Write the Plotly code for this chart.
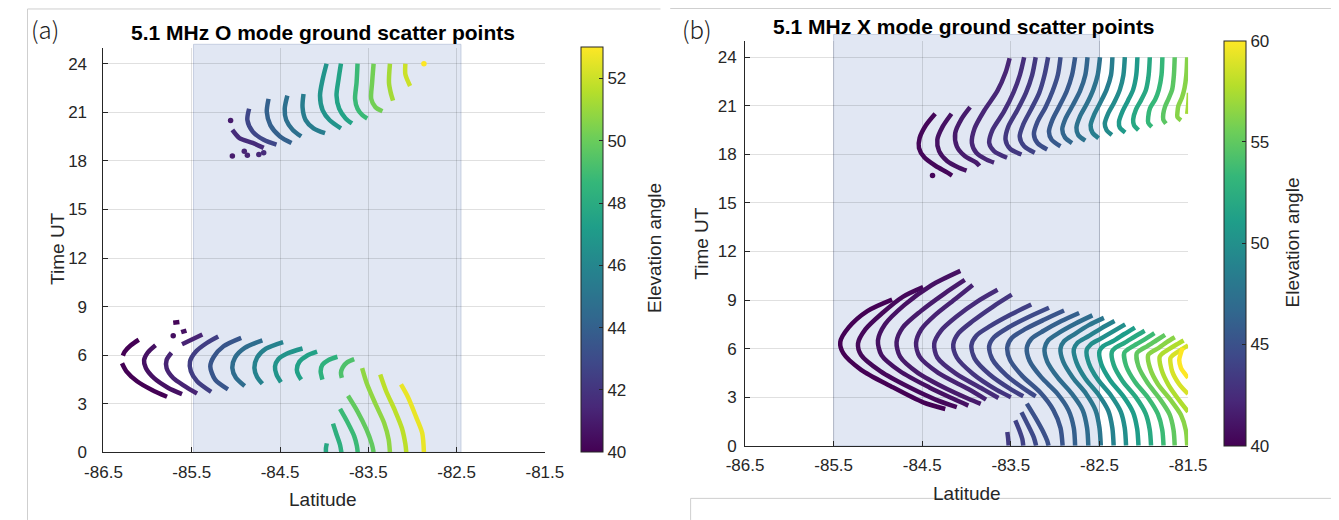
import plotly.graph_objects as go
from plotly.colors import sample_colorscale

# ---------------- data ----------------
LAT_TICKS = [-86.5, -85.5, -84.5, -83.5, -82.5, -81.5]
LAT_TICK_TEXT = ["-86.5", "-85.5", "-84.5", "-83.5", "-82.5", "-81.5"]
TIME_TICKS = [0, 3, 6, 9, 12, 15, 18, 21, 24]
CBAR_A_TICKS = [40, 42, 44, 46, 48, 50, 52]
CBAR_B_TICKS = [40, 45, 50, 55, 60]
CBAR_A_RANGE = [40, 53]
CBAR_B_RANGE = [40, 60]
SHADE_A = [-85.48, -82.45]
SHADE_B = [-85.5, -82.5]

# panel (a): O mode traces (latitude, time UT, elevation angle)
A_LAT = [
    [-86.10, -86.19, -86.26, -86.28, None, -86.29, -86.24, -86.12, -85.95, -85.78],
    [-85.91, -86.00, -86.04, -86.02, -85.93, -85.77, -85.61],
    [-85.38, -85.61, None, -85.73, -85.785, -85.785, -85.71, -85.58, -85.44],
    [-85.20, -85.33, -85.455, -85.52, -85.51, -85.44, -85.28],
    [-84.94, -85.14, -85.25, -85.29, -85.235, -85.09],
    [-84.70, -84.90, -85.01, -85.04, -85.00, -84.90],
    [-84.465, -84.66, -84.76, -84.79, -84.76, -84.70],
    [-84.245, -84.42, -84.52, -84.557, -84.54, -84.49],
    [-84.08, -84.20, -84.28, -84.31, -84.29, -84.26],
    [-83.85, -83.95, -84.02, -84.04, -84.03, -84.02],
    [-83.66, -83.74, -83.79, -83.81, -83.80],
    [-85.71, -85.64],
    [-85.62, -85.56],
    [-83.97, -83.98, -83.98],
    [-83.90, -83.86, -83.82, -83.805],
    [-83.82, -83.74, -83.66, -83.63, -83.62],
    [-83.73, -83.62, -83.52, -83.46, -83.44],
    [-83.57, -83.52, -83.42, -83.32, -83.27, -83.255],
    [-83.365, -83.30, -83.20, -83.12, -83.08, -83.07],
    [-83.13, -83.05, -82.96, -82.89, -82.87],
    [-85.04, -84.96, -84.81, -84.685],
    [-84.85, -84.87, -84.81, -84.685, -84.54],
    [-84.63, -84.65, -84.61, -84.50, -84.37],
    [-84.417, -84.447, -84.43, -84.355, -84.26],
    [-84.234, -84.245, -84.21, -84.12, -83.99],
    [-83.973, -84.017, -84.047, -84.017, -83.937, -83.81],
    [-83.81, -83.837, -83.86, -83.83, -83.757, -83.685],
    [-83.622, -83.633, -83.65, -83.622, -83.567, -83.512],
    [-83.44, -83.457, -83.467, -83.42, -83.34],
    [-83.255, -83.266, -83.247, -83.22],
    [-83.08, -83.08, -83.027],
]
A_TIME = [
    [6.95, 6.61, 6.21, 5.97, None, 5.50, 5.00, 4.39, 3.85, 3.43],
    [6.61, 6.15, 5.70, 5.20, 4.59, 3.99, 3.59],
    [7.27, 6.67, None, 6.15, 5.70, 5.20, 4.59, 4.09, 3.63],
    [7.15, 6.75, 6.21, 5.60, 5.00, 4.39, 3.73],
    [7.07, 6.55, 5.90, 5.30, 4.49, 3.89],
    [6.91, 6.45, 5.85, 5.20, 4.60, 4.09],
    [6.81, 6.40, 5.85, 5.20, 4.65, 4.23],
    [6.41, 6.10, 5.75, 5.30, 4.80, 4.33],
    [6.21, 5.95, 5.60, 5.10, 4.75, 4.49],
    [5.90, 5.70, 5.40, 5.00, 4.70, 4.49],
    [5.75, 5.55, 5.25, 4.90, 4.60],
    [8.00, 8.05],
    [7.42, 7.52],
    [0.55, 0.25, 0.00],
    [1.77, 1.10, 0.45, 0.00],
    [2.68, 1.90, 1.00, 0.40, 0.00],
    [3.49, 2.50, 1.40, 0.50, 0.00],
    [5.20, 4.30, 3.00, 1.80, 0.80, 0.00],
    [4.80, 3.80, 2.60, 1.50, 0.50, 0.00],
    [4.19, 3.40, 2.20, 1.20, 0.00],
    [19.91, 19.41, 19.11, 18.80],
    [21.22, 20.52, 19.81, 19.30, 19.00],
    [21.83, 21.02, 20.21, 19.51, 19.10],
    [22.03, 21.22, 20.52, 19.91, 19.51],
    [22.13, 21.32, 20.52, 20.01, 19.71],
    [24.00, 23.04, 22.03, 21.12, 20.51, 20.01],
    [24.00, 23.04, 22.03, 21.22, 20.62, 20.31],
    [24.00, 22.83, 21.83, 21.22, 20.82, 20.62],
    [24.00, 22.83, 21.83, 21.32, 21.06],
    [24.00, 22.83, 22.23, 21.72],
    [24.00, 23.34, 22.63],
]
A_ELEV = [40.0, 40.6, 41.3, 42.4, 43.5, 44.6, 45.8, 46.7, 47.4, 48.3, 49.3,
          40.2, 40.6,
          47.8, 48.2, 48.8, 49.8, 50.8, 51.7, 52.6,
          41.6, 42.8, 44.0, 44.8, 45.5, 46.7, 47.5, 48.8, 50.2, 51.2, 52.0]

A_DOT_LAT = [-85.06, -85.04, -84.905, -84.87, -84.74, -84.685, -82.87, -85.71]
A_DOT_TIME = [20.5, 18.3, 18.6, 18.34, 18.4, 18.5, 24.0, 7.2]
A_DOT_ELEV = [41.0, 41.0, 41.3, 41.3, 41.5, 41.6, 53.0, 40.5]

# panel (b): X mode traces
B_LAT = [
    [-84.84, -85.12, -85.33, -85.425, -85.39, -85.19, -84.86, -84.49, -84.24],
    [-84.49, -84.72, -84.95, -85.14, -85.225, -85.19, -84.97, -84.64, -84.35, -84.11],
    [-84.07, -84.40, -84.70, -84.92, -85.00, -84.96, -84.75, -84.42, -84.15, -83.98],
    [-84.02, -84.25, -84.52, -84.72, -84.79, -84.75, -84.55, -84.22, -83.98, -83.84],
    [-83.93, -84.12, -84.35, -84.51, -84.57, -84.53, -84.32, -83.98, -83.78],
    [-83.65, -83.88, -84.12, -84.29, -84.365, -84.33, -84.12, -83.80, -83.64],
    [-83.49, -83.70, -83.93, -84.09, -84.15, -84.11, -83.93, -83.66, -83.50],
    [-83.27, -83.50, -83.73, -83.89, -83.945, -83.91, -83.74, -83.49, -83.36],
    [-83.07, -83.30, -83.53, -83.69, -83.745, -83.71, -83.55, -83.32, -83.22],
    [-82.90, -83.12, -83.34, -83.49, -83.54, -83.51, -83.37, -83.17, -83.02, -82.94, -82.916],
    [-82.73, -82.93, -83.13, -83.27, -83.32, -83.29, -83.16, -82.98, -82.85, -82.79, -82.775],
    [-82.58, -82.77, -82.95, -83.08, -83.12, -83.09, -82.97, -82.81, -82.69, -82.64, -82.626],
    [-82.45, -82.62, -82.78, -82.90, -82.94, -82.91, -82.80, -82.65, -82.545, -82.50, -82.485],
    [-82.33, -82.48, -82.63, -82.75, -82.79, -82.76, -82.66, -82.51, -82.40, -82.355, -82.34],
    [-82.21, -82.35, -82.49, -82.60, -82.645, -82.62, -82.52, -82.37, -82.26, -82.215, -82.20],
    [-82.10, -82.22, -82.35, -82.46, -82.50, -82.48, -82.38, -82.23, -82.12, -82.075, -82.06],
    [-81.99, -82.10, -82.22, -82.32, -82.36, -82.34, -82.24, -82.09, -81.98, -81.933, -81.918],
    [-81.88, -81.98, -82.09, -82.18, -82.22, -82.20, -82.10, -81.95, -81.84, -81.792, -81.777],
    [-81.76, -81.86, -81.96, -82.04, -82.08, -82.06, -81.96, -81.82, -81.71, -81.665, -81.651],
    [-81.65, -81.74, -81.83, -81.91, -81.95, -81.93, -81.84, -81.70, -81.58, -81.525, -81.51],
    [-81.55, -81.63, -81.72, -81.79, -81.82, -81.80, -81.72, -81.60, -81.50],
    [-81.50, -81.56, -81.63, -81.68, -81.70, -81.68, -81.60, -81.50],
    [-81.56, -81.58, -81.60, -81.58, -81.53, -81.50],
    [-83.54, -83.53, -83.525],
    [-83.45, -83.40, -83.37, -83.36],
    [-83.38, -83.30, -83.24, -83.215],
    [-83.32, -83.22, -83.13, -83.09, -83.075],
    [-84.354, -84.457, -84.53, -84.537, -84.475, -84.347, -84.22, -84.164],
    [-84.17, -84.27, -84.33, -84.31, -84.22, -84.09, -84.00],
    [-83.96, -84.055, -84.128, -84.11, -84.02, -83.89, -83.854],
    [-83.514, -83.561, -83.652, -83.80, -83.909, -83.94, -83.89, -83.78, -83.69],
    [-83.35, -83.397, -83.47, -83.58, -83.707, -83.744, -83.69, -83.543],
    [-83.22, -83.26, -83.33, -83.43, -83.53, -83.56, -83.51, -83.38],
    [-83.08, -83.12, -83.18, -83.27, -83.36, -83.40, -83.35, -83.23],
    [-82.94, -82.97, -83.03, -83.11, -83.20, -83.24, -83.20, -83.09],
    [-82.775, -82.81, -82.87, -82.95, -83.03, -83.07, -83.04, -82.94],
    [-82.635, -82.66, -82.72, -82.80, -82.88, -82.92, -82.89, -82.81],
    [-82.494, -82.52, -82.57, -82.64, -82.72, -82.76, -82.74, -82.66],
    [-82.354, -82.37, -82.42, -82.49, -82.56, -82.60, -82.58, -82.51],
    [-82.214, -82.23, -82.27, -82.33, -82.40, -82.44, -82.42, -82.36],
    [-82.072, -82.085, -82.12, -82.18, -82.24, -82.28, -82.27, -82.21],
    [-81.932, -81.945, -81.975, -82.03, -82.09, -82.12, -82.11, -82.06],
    [-81.79, -81.80, -81.83, -81.87, -81.93, -81.95, -81.95, -81.91],
    [-81.651, -81.66, -81.68, -81.72, -81.76, -81.78, -81.78, -81.75],
    [-81.51, -81.52, -81.54, -81.57, -81.61, -81.62, -81.62, -81.58],
    [-81.49, -81.50, -81.51],
]
B_TIME = [
    [9.03, 8.32, 7.31, 6.41, 5.70, 4.69, 3.69, 2.68, 2.27],
    [9.80, 9.20, 8.20, 7.20, 6.31, 5.60, 4.59, 3.59, 2.85, 2.38],
    [10.80, 9.90, 8.70, 7.50, 6.50, 5.60, 4.60, 3.60, 2.90, 2.48],
    [10.24, 9.40, 8.30, 7.30, 6.40, 5.50, 4.50, 3.50, 2.90, 2.58],
    [9.93, 9.10, 8.10, 7.20, 6.35, 5.50, 4.50, 3.50, 2.85],
    [9.63, 8.90, 7.95, 7.10, 6.30, 5.45, 4.45, 3.45, 2.95],
    [9.33, 8.60, 7.70, 6.95, 6.25, 5.45, 4.45, 3.45, 3.00],
    [8.72, 8.10, 7.40, 6.80, 6.20, 5.40, 4.40, 3.45, 3.05],
    [8.52, 7.95, 7.30, 6.70, 6.15, 5.35, 4.35, 3.40, 3.05],
    [8.35, 7.80, 7.20, 6.65, 6.10, 5.30, 4.30, 3.30, 2.20, 1.10, 0.00],
    [8.20, 7.70, 7.10, 6.60, 6.05, 5.25, 4.25, 3.25, 2.20, 1.10, 0.00],
    [8.05, 7.55, 7.00, 6.50, 6.00, 5.20, 4.20, 3.20, 2.20, 1.10, 0.00],
    [7.90, 7.45, 6.90, 6.45, 6.00, 5.20, 4.20, 3.20, 2.20, 1.10, 0.00],
    [7.70, 7.25, 6.75, 6.35, 5.95, 5.15, 4.15, 3.15, 2.15, 1.10, 0.00],
    [7.50, 7.05, 6.60, 6.25, 5.90, 5.10, 4.10, 3.10, 2.10, 1.10, 0.00],
    [7.30, 6.90, 6.45, 6.15, 5.85, 5.05, 4.05, 3.05, 2.05, 1.05, 0.00],
    [7.10, 6.75, 6.35, 6.05, 5.80, 5.00, 4.00, 3.00, 2.00, 1.00, 0.00],
    [6.95, 6.60, 6.25, 5.95, 5.75, 4.95, 3.95, 2.95, 1.95, 1.00, 0.00],
    [6.85, 6.50, 6.15, 5.90, 5.70, 4.90, 3.90, 2.90, 1.95, 1.00, 0.00],
    [6.70, 6.40, 6.05, 5.80, 5.60, 4.80, 3.80, 2.85, 1.90, 0.95, 0.00],
    [6.50, 6.25, 5.95, 5.70, 5.50, 4.70, 3.75, 2.80, 2.10],
    [6.20, 6.00, 5.75, 5.55, 5.40, 4.60, 3.80, 3.20],
    [6.05, 5.75, 5.30, 4.80, 4.40, 4.20],
    [0.85, 0.40, 0.00],
    [1.57, 0.90, 0.40, 0.00],
    [2.07, 1.20, 0.50, 0.00],
    [2.60, 1.70, 0.80, 0.30, 0.00],
    [20.51, 19.81, 19.00, 18.40, 17.80, 17.28, 16.89, 16.69],
    [20.51, 19.71, 18.90, 18.20, 17.59, 17.19, 16.99],
    [20.92, 20.21, 19.31, 18.50, 17.90, 17.49, 17.29],
    [23.94, 23.04, 21.92, 20.71, 19.61, 18.70, 18.10, 17.69, 17.49],
    [24.00, 22.93, 21.83, 20.62, 19.51, 18.70, 18.20, 17.79],
    [24.00, 22.90, 21.80, 20.70, 19.70, 18.90, 18.35, 17.99],
    [24.00, 22.90, 21.80, 20.80, 19.85, 19.10, 18.50, 18.10],
    [24.00, 22.90, 21.90, 20.90, 20.00, 19.25, 18.70, 18.30],
    [24.00, 22.90, 21.90, 21.00, 20.15, 19.40, 18.90, 18.50],
    [24.00, 22.90, 21.90, 21.05, 20.25, 19.55, 19.05, 18.70],
    [24.00, 22.90, 22.00, 21.15, 20.35, 19.65, 19.20, 18.85],
    [24.00, 22.90, 22.00, 21.20, 20.45, 19.80, 19.35, 19.00],
    [24.00, 22.90, 22.00, 21.25, 20.55, 19.90, 19.50, 19.20],
    [24.00, 22.90, 22.00, 21.30, 20.65, 20.00, 19.65, 19.35],
    [24.00, 22.90, 22.00, 21.35, 20.75, 20.15, 19.80, 19.50],
    [24.00, 22.90, 22.00, 21.40, 20.85, 20.30, 19.95, 19.70],
    [24.00, 22.90, 22.00, 21.45, 20.95, 20.50, 20.15, 19.90],
    [24.00, 22.90, 22.10, 21.50, 21.00, 20.60, 20.30, 20.10],
    [21.80, 21.00, 20.50],
]
B_ELEV = [40.0, 40.4, 40.9, 41.4, 41.9, 42.5, 43.1, 43.8, 44.5, 45.3,
          46.1, 47.0, 47.9, 48.9, 49.9, 51.0, 52.1, 53.6, 55.0, 56.4,
          57.6, 58.8, 60.0,
          43.5, 44.0, 44.5, 45.0,
          40.3, 40.9, 41.5, 42.1, 42.7, 43.3, 44.0, 44.8, 45.6, 46.5,
          47.5, 48.5, 49.6, 50.8, 52.0, 53.3, 54.8, 56.3, 57.2]

B_DOT_LAT = [-84.384]
B_DOT_TIME = [16.69]
B_DOT_ELEV = [40.3]

# ---------------- figure ----------------
W, H = 1339, 520
OFF = 8  # page body margin: pixel positions below are screen positions
FONT = "Liberation Sans, Arial, Helvetica, sans-serif"
INK = "#262626"


def px(x):
    return (x - OFF) / W


def py(y):
    return 1 - (y - OFF) / H


def viridis(v, rng):
    f = (v - rng[0]) / (rng[1] - rng[0])
    return sample_colorscale("Viridis", [min(max(f, 0), 1)])[0]


fig = go.Figure()

for lats, times, e in zip(A_LAT, A_TIME, A_ELEV):
    fig.add_trace(go.Scatter(x=lats, y=times, mode="lines", xaxis="x", yaxis="y",
                             line=dict(color=viridis(e, CBAR_A_RANGE), width=4.5,
                                       shape="spline", smoothing=0.8),
                             hoverinfo="skip", showlegend=False))
fig.add_trace(go.Scatter(x=A_DOT_LAT, y=A_DOT_TIME, mode="markers", xaxis="x", yaxis="y",
                         marker=dict(size=5.5, color=A_DOT_ELEV, coloraxis="coloraxis"),
                         hoverinfo="skip", showlegend=False))

for lats, times, e in zip(B_LAT, B_TIME, B_ELEV):
    fig.add_trace(go.Scatter(x=lats, y=times, mode="lines", xaxis="x2", yaxis="y2",
                             line=dict(color=viridis(e, CBAR_B_RANGE), width=4.5,
                                       shape="spline", smoothing=0.8),
                             hoverinfo="skip", showlegend=False))
fig.add_trace(go.Scatter(x=B_DOT_LAT, y=B_DOT_TIME, mode="markers", xaxis="x2", yaxis="y2",
                         marker=dict(size=5.5, color=B_DOT_ELEV, coloraxis="coloraxis2"),
                         hoverinfo="skip", showlegend=False))

axis_common = dict(showgrid=True, gridcolor="rgba(0,0,0,0.12)", gridwidth=1,
                   showline=True, linecolor=INK, linewidth=1, zeroline=False,
                   ticks="inside", ticklen=5, tickcolor=INK,
                   tickfont=dict(family=FONT, size=17, color=INK))

xa = dict(axis_common, range=[-86.5, -81.5], tickvals=LAT_TICKS, ticktext=LAT_TICK_TEXT)
ya = dict(axis_common, range=[0, 25], tickvals=TIME_TICKS)


def cbar(x_left, y_bottom, y_top, ticks):
    return dict(x=px(x_left), xanchor="left", y=py(y_bottom), yanchor="bottom",
                len=(y_bottom - y_top) / H, lenmode="fraction",
                thickness=22, thicknessmode="pixels", xpad=0, ypad=0,
                outlinewidth=1, outlinecolor=INK,
                tickvals=ticks, ticks="inside", ticklen=4, tickcolor=INK,
                tickfont=dict(family=FONT, size=17, color=INK))


fig.update_layout(
    width=W, height=H, autosize=False,
    margin=dict(l=0, r=0, t=0, b=0),
    paper_bgcolor="white", plot_bgcolor="rgba(0,0,0,0)",
    font=dict(family=FONT, color=INK),
    xaxis=dict(xa, domain=[px(86.7), px(541)], anchor="y", ticklabelstandoff=4),
    yaxis=dict(ya, domain=[py(461), py(48.3)], anchor="x", ticklabelstandoff=12),
    xaxis2=dict(xa, domain=[px(747), px(1203)], anchor="y2", ticklabelstandoff=4),
    yaxis2=dict(ya, domain=[py(454.3), py(41.7)], anchor="x2", ticklabelstandoff=4),
    coloraxis=dict(colorscale="Viridis", cmin=CBAR_A_RANGE[0], cmax=CBAR_A_RANGE[1],
                   colorbar=cbar(578, 461, 48.3, CBAR_A_TICKS)),
    coloraxis2=dict(colorscale="Viridis", cmin=CBAR_B_RANGE[0], cmax=CBAR_B_RANGE[1],
                    colorbar=cbar(1240, 454.3, 41.7, CBAR_B_TICKS)),
)

shade_fill = "rgb(225,231,243)"
shade_line = "rgba(165,178,205,0.55)"
fig.add_shape(type="rect", xref="x", yref="paper", x0=SHADE_A[0], x1=SHADE_A[1],
              y0=py(461), y1=py(45), fillcolor=shade_fill,
              line=dict(color=shade_line, width=1), layer="below")
fig.add_shape(type="rect", xref="x2", yref="paper", x0=SHADE_B[0], x1=SHADE_B[1],
              y0=py(454.3), y1=py(35), fillcolor=shade_fill,
              line=dict(color=shade_line, width=1), layer="below")

frame = dict(color="#cfcfcf", width=1)
for x0, y0, x1, y1 in [(8.5, 9, 660, 9), (8.5, 9, 8.5, 530), (670, 8.5, 1350, 8.5),
                       (691, 508, 1350, 508), (691, 508, 691, 530)]:
    fig.add_shape(type="line", xref="paper", yref="paper", x0=px(x0), y0=py(y0),
                  x1=px(x1), y1=py(y1), line=frame, layer="above")

ann = []


def label(text, x, y, size, angle=0, family=FONT, color=INK, anchor="center",
          vanchor="middle", weight=None):
    f = dict(family=family, size=size, color=color)
    if weight:
        f["weight"] = weight
    ann.append(dict(text=text, x=px(x), y=py(y), xref="paper", yref="paper",
                    xanchor=anchor, yanchor=vanchor, showarrow=False,
                    textangle=angle, font=f))


label("<b>5.1 MHz O mode ground scatter points</b>", 312.6, 33, 21, color="#000")
label("<b>5.1 MHz X mode ground scatter points</b>", 972, 27, 21, color="#000")
label("(a)", 10, 9.5, 24, family="Noto Sans CJK SC", color="#222", anchor="left",
      vanchor="top", weight=300)
label("(b)", 680, 9, 24, family="Noto Sans CJK SC", color="#222", anchor="left",
      vanchor="top", weight=300)
label("Time UT", 39.5, 253, 19, angle=-90)
label("Time UT", 702, 248, 19, angle=-90)
label("Latitude", 313, 509, 19)
label("Latitude", 975, 503, 19)
label("Elevation angle", 654, 253, 19, angle=-90)
label("Elevation angle", 1310, 247, 19, angle=-90)
fig.update_layout(annotations=ann)

fig.write_html("out.html")
